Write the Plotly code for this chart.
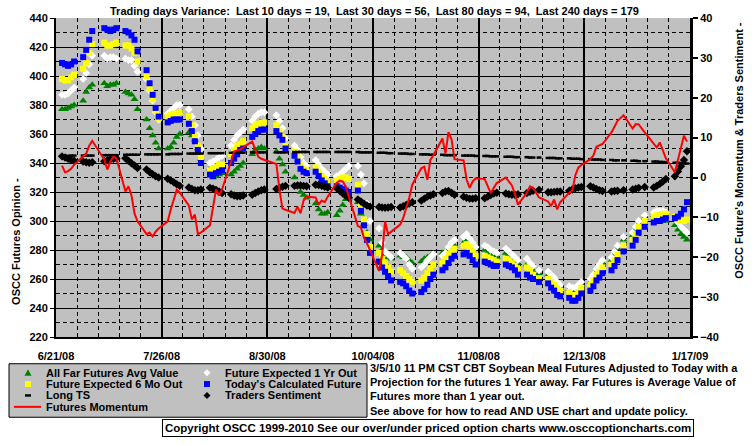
import plotly.graph_objects as go
import pandas as pd

# ---------------- data ----------------
trading_days = pd.bdate_range('2008-06-23', '2009-01-16')
holidays = pd.to_datetime(['2008-07-04', '2008-09-01', '2008-11-27', '2008-12-25', '2009-01-01'])
dates = trading_days[~trading_days.isin(holidays)]

x_tick_dates = ['2008-06-21', '2008-07-26', '2008-08-30', '2008-10-04', '2008-11-08', '2008-12-13', '2009-01-17']
x_tick_labels = ['6/21/08', '7/26/08', '8/30/08', '10/04/08', '11/08/08', '12/13/08', '1/17/09']

far_futures_avg = [
    377, 377, 378, 379, 380,  383, 389, 392, 394,  395, 393, 394, 394, 395,
    389, 388, 387, 384, 377,  370, 364, 359, 354, 350,  350, 351, 354, 358, 360,
    361, 359, 356, 350, 343,  336, 330, 331, 332, 333,  332, 334, 336, 338, 340,
    346, 349, 350, 351, 350,  348, 343, 339, 334,  330, 325, 320, 318, 316,
    312, 308, 305, 305, 306,  304, 307, 311, 315, 316,  313, 305, 298, 292, 287,
    283, 280, 277, 275, 274,  276, 275, 275, 273, 271,  272, 274, 275, 276, 277,
    278, 278, 280, 281, 283,  285, 287, 286, 284, 282,  280, 278, 277, 276, 275,
    278, 277, 275, 273, 271,  270, 268, 266, 264,  263, 261, 259, 256, 254,
    253, 252, 252, 254, 256,  258, 261, 265, 268, 271,  273, 277, 281, 287,
    290, 294, 298, 302,  304, 304, 303, 302, 300,  297, 294, 291, 289, 287]

future_1yr = [
    387, 387, 388, 390, 392,  398, 402, 408, 414,  414, 412, 413, 413, 412,
    412, 411, 411, 407, 403,  398, 390, 383, 375, 370,  374, 376, 378, 380, 380,
    377, 372, 366, 359, 350,  340, 341, 342, 344, 345,  352, 356, 359, 361, 363,
    369, 372, 374, 375, 375,  373, 369, 364, 357,  352, 349, 344, 340, 338,
    342, 339, 336, 334, 332,  331, 332, 334, 336, 338,  338, 332, 326, 312, 300,
    295, 285, 279, 277, 275,  278, 276, 274, 270, 267,  268, 270, 273, 275, 277,
    276, 278, 282, 285, 287,  289, 291, 288, 285, 282,  283, 282, 280, 279, 278,
    281, 279, 277, 275, 273,  274, 271, 269, 266,  265, 263, 261, 258, 256,
    255, 254, 254, 256, 258,  260, 263, 267, 270, 273,  275, 279, 283, 289,
    292, 296, 300, 304,  306, 307, 307, 307, 306,  302, 299, 296, 294, 292]

future_6mo = [
    398, 397, 397, 399, 401,  405, 409, 416, 422,  423, 421, 421, 422, 423,
    421, 421, 419, 416, 410,  400, 391, 384, 376, 371,  372, 373, 374, 374, 375,
    372, 366, 359, 352, 344,  335, 336, 337, 339, 339,  346, 349, 352, 353, 355,
    364, 366, 367, 368, 368,  366, 362, 358, 352,  348, 344, 339, 336, 335,
    337, 334, 331, 329, 327,  328, 329, 330, 330, 329,  325, 311, 301, 291, 282,
    278, 274, 271, 268, 265,  266, 264, 262, 260, 258,  259, 261, 264, 267, 270,
    271, 274, 277, 279, 281,  283, 284, 282, 279, 276,  276, 275, 274, 273, 272,
    274, 273, 271, 269, 267,  268, 266, 263, 260,  260, 258, 256, 253, 252,
    251, 249, 249, 251, 254,  256, 259, 263, 265, 268,  270, 273, 277, 283,
    287, 291, 296, 300,  303, 304, 304, 305, 305,  303, 301, 300, 300, 301]

todays_future = [
    409, 408, 407, 408, 410,  413, 418, 425, 431,  433, 432, 431, 432, 433,
    431, 430, 428, 425, 417,  404, 395, 387, 378, 372,  368, 369, 370, 370, 370,
    367, 362, 355, 349, 340,  332, 331, 333, 334, 335,  340, 343, 346, 349, 350,
    358, 360, 362, 363, 363,  362, 359, 356, 350,  345, 341, 336, 334, 333,
    334, 331, 328, 326, 324,  324, 323, 322, 321, 320,  321, 307, 297, 287, 278,
    272, 268, 265, 262, 259,  258, 257, 255, 252, 250,  251, 253, 256, 260, 263,
    266, 268, 271, 274, 276,  277, 278, 276, 273, 270,  272, 271, 270, 269, 269,
    270, 269, 268, 266, 263,  263, 261, 260, 258,  257, 254, 252, 249, 248,
    247, 245, 245, 247, 250,  252, 255, 259, 261, 264,  266, 269, 273, 279,
    283, 287, 292, 296,  299, 300, 300, 301, 302,  302, 303, 305, 308, 313]

long_ts = [
    5.4, 5.4, 5.4, 5.5, 5.5,  5.5, 5.5, 5.5, 5.5,  5.6, 5.6, 5.6, 5.6, 5.6,
    5.7, 5.7, 5.7, 5.7, 5.7,  5.8, 5.8, 5.8, 5.8, 5.8,  5.8, 5.9, 5.9, 5.9, 5.9,
    6.0, 6.0, 6.0, 6.0, 6.0,  6.1, 6.1, 6.1, 6.1, 6.1,  6.2, 6.2, 6.2, 6.2, 6.2,
    6.3, 6.3, 6.3, 6.3, 6.3,  6.3, 6.3, 6.3, 6.3,  6.4, 6.4, 6.4, 6.4, 6.4,
    6.4, 6.4, 6.4, 6.4, 6.4,  6.4, 6.4, 6.4, 6.4, 6.4,  6.4, 6.3, 6.3, 6.3, 6.3,
    6.2, 6.2, 6.2, 6.1, 6.1,  6.0, 6.0, 6.0, 5.9, 5.9,  5.8, 5.8, 5.8, 5.7, 5.7,
    5.7, 5.6, 5.6, 5.6, 5.6,  5.5, 5.5, 5.5, 5.5, 5.4,  5.4, 5.4, 5.3, 5.3, 5.3,
    5.2, 5.2, 5.2, 5.1, 5.1,  5.1, 5.0, 5.0, 5.0,  4.9, 4.9, 4.9, 4.8, 4.8,
    4.8, 4.7, 4.7, 4.7, 4.6,  4.6, 4.5, 4.5, 4.5, 4.4,  4.4, 4.3, 4.3, 4.3,
    4.2, 4.2, 4.1, 4.1,  4.0, 4.0, 3.9, 3.9, 3.8,  3.7, 3.7, 3.6, 3.5, 3.5]

traders_sentiment = [
    5.3, 5.0, 4.7, 4.4, 4.2,  4.0, 3.8, 3.7, 3.8,  4.1, 4.3, 4.5, 4.7, 4.8,
    4.8, 4.2, 3.6, 3.0, 2.4,  2.0, 1.4, 0.8, 0.3, 0.0,  -0.3, -0.7, -1.2, -1.7, -2.1,
    -2.5, -2.9, -3.2, -3.2, -3.0,  -2.6, -2.8, -3.1, -3.5, -3.9,  -4.2, -4.5, -4.7, -4.7, -4.5,
    -4.3, -3.9, -3.5, -3.2, -3.0,  -2.9, -2.6, -2.3, -2.1,  -2.1, -2.0, -2.0, -2.1, -2.2,
    -1.8, -1.9, -2.1, -2.3, -2.5,  -2.7, -3.3, -4.0, -4.6, -5.1,  -5.5, -6.0, -6.6, -7.0, -7.3,
    -7.4, -7.5, -7.6, -7.5, -7.4,  -7.5, -7.2, -6.9, -6.5, -6.2,  -5.8, -5.3, -4.8, -4.5, -4.2,
    -3.9, -3.5, -3.4, -3.8, -4.3,  -4.8, -5.1, -5.3, -5.3, -5.2,  -5.2, -4.8, -4.4, -4.0, -3.8,
    -4.0, -4.2, -4.3, -4.3, -4.2,  -3.9, -3.6, -3.3, -3.1,  -3.7, -3.7, -3.6, -3.5, -3.5,
    -3.3, -3.0, -2.7, -2.5, -2.4,  -2.2, -2.5, -2.9, -3.2, -3.4,  -3.5, -3.4, -3.3, -3.2,
    -3.0, -2.8, -2.6, -2.4,  -2.5, -2.1, -1.6, -1.0, -0.4,  0.3, 1.5, 2.8, 4.4, 6.6]

futures_momentum = [
    3.0, 1.3, 1.6, 2.2, 3.2,  5.2, 6.0, 8.0, 9.2,  4.5, 2.0, 4.0, 5.2, 4.9,
    -3.5, -2.2, -4.5, -9.0, -11.0,  -14.2, -13.8, -14.8, -13.6, -12.8,  -11.0, -8.0, -5.5, -3.1, -3.8,
    -7.0, -10.5, -9.3, -14.2, -13.8,  -12.0, -7.0, -3.0, -4.5, -3.0,  4.0, 6.5, 6.8, 7.0, 7.6,
    9.0, 7.0, 5.2, 4.7, 4.4,  3.4, -3.0, -7.8, -8.1,  -8.9, -7.3, -9.0, -5.8, -4.8,
    -5.0, -6.8, -5.8, -6.2, -4.8,  -1.3, -0.8, -1.0, -2.3, -4.7,  -12.2, -12.6, -15.1, -16.5, -18.2,
    -23.4, -19.5, -11.0, -14.2, -13.6,  -11.8, -10.2, -7.8, -5.1, -1.8,  2.3, 2.7, -0.6, 4.4, 5.6,
    9.8, 6.0, 11.4, 9.6, 4.6,  4.3, -0.5, -2.6, -1.0, -0.2,  -0.4, -2.0, -3.9, -2.6, -1.4,
    0.0, -1.0, -2.0, -4.0, -6.8,  -3.8, -2.2, -2.6, -5.0,  -6.0, -7.2, -5.5, -8.0, -6.2,
    -3.8, -3.3, 0.5, 2.5, 3.1,  4.6, 5.5, 7.7, 8.0, 8.4,  11.3, 12.6, 14.2, 15.6,
    12.3, 13.4, 13.3, 11.3,  8.5, 7.5, 8.8, 7.0, 4.8,  1.3, 4.5, 7.2, 10.5, 9.0]

title_text = ('Trading days Variance:\u00a0 Last 10 days = 19,\u00a0 Last 30 days = 56,\u00a0 '
              'Last 80 days = 94,\u00a0 Last 240 days = 179')
note_lines = ['3/5/10 11 PM CST CBT Soybean Meal Futures Adjusted to Today with a',
              'Projection for the futures 1 Year away. Far Futures is Average Value of',
              'Futures more than 1 year out.',
              'See above for how to read AND USE chart and update policy.']
copyright_text = 'Copyright OSCC 1999-2010 See our over/under priced option charts www.osccoptioncharts.com'

# ---------------- layout geometry ----------------
W_FIG, H_FIG = 755, 446
L, R, T, B = 56, 65, 15, 109
PW, PH = W_FIG - L - R, H_FIG - T - B
FONT = 'Liberation Sans, Arial, sans-serif'


def px(p):
    return (p - L) / PW


def py(p):
    return (T + PH - p) / PH


fig = go.Figure()

fig.add_trace(go.Scatter(x=dates, y=far_futures_avg, mode='markers', name='All Far Futures Avg Value',
                         marker=dict(symbol='triangle-up', size=7, color='#008000')))
fig.add_trace(go.Scatter(x=dates, y=future_1yr, mode='markers', name='Future Expected 1 Yr Out',
                         marker=dict(symbol='diamond', size=6, color='#FFFFFF')))
fig.add_trace(go.Scatter(x=dates, y=future_6mo, mode='markers', name='Future Expected 6 Mo Out',
                         marker=dict(symbol='square', size=6, color='#FFFF00')))
fig.add_trace(go.Scatter(x=dates, y=todays_future, mode='markers', name="Today's Calculated Future",
                         marker=dict(symbol='square', size=6, color='#0000FF')))
fig.add_trace(go.Scatter(x=dates, y=long_ts, mode='markers', name='Long TS', yaxis='y2',
                         marker=dict(symbol='line-ew', size=3.5, color='black',
                                     line=dict(color='black', width=2.5))))
fig.add_trace(go.Scatter(x=dates, y=traders_sentiment, mode='markers', name='Traders Sentiment', yaxis='y2',
                         marker=dict(symbol='diamond', size=6.5, color='black')))
fig.add_trace(go.Scatter(x=dates, y=futures_momentum, mode='lines', name='Futures Momentum', yaxis='y2',
                         line=dict(color='#FF0000', width=2)))

tickfont = dict(family=FONT, size=11, color='black', weight='bold')

fig.update_layout(
    width=W_FIG, height=H_FIG,
    margin=dict(l=L, r=R, t=T, b=B, pad=0),
    paper_bgcolor='white', plot_bgcolor='#C0C0C0',
    showlegend=False,
    font=dict(family=FONT, size=11, color='black'),
    xaxis=dict(type='date', range=['2008-06-21', '2009-01-17'],
               tickmode='array', tickvals=x_tick_dates, ticktext=x_tick_labels,
               tickfont=tickfont, ticks='', ticklabelstandoff=8,
               showgrid=True, gridcolor='black', gridwidth=2,
               minor=dict(tickmode='linear', tick0='2008-06-21', dtick=7 * 86400000,
                          showgrid=True, gridcolor='black', gridwidth=1, griddash='4px,3px'),
               showline=True, linecolor='black', linewidth=2, zeroline=False),
    yaxis=dict(range=[220, 440], tickmode='linear', tick0=220, dtick=20,
               tickfont=tickfont, ticks='outside', ticklen=4, tickcolor='black',
               showgrid=True, gridcolor='black', gridwidth=1,
               minor=dict(tickmode='linear', tick0=230, dtick=20,
                          showgrid=True, gridcolor='black', gridwidth=1, griddash='4px,3px'),
               showline=True, linecolor='black', linewidth=2, zeroline=False),
    yaxis2=dict(range=[-40, 40], overlaying='y', side='right', tickmode='linear', tick0=-40, dtick=10,
                tickfont=tickfont, ticks='outside', ticklen=5, tickcolor='black', tickwidth=1.5,
                showgrid=False, showline=True, linecolor='black', linewidth=3, zeroline=False),
    # inner half of the crossing tick marks on the right axis
    yaxis3=dict(range=[-40, 40], overlaying='y', side='right', anchor='x', tickmode='linear', tick0=-40,
                dtick=10, ticks='inside', ticklen=4, tickcolor='black', tickwidth=1.5,
                showticklabels=False, showgrid=False, showline=False, zeroline=False),
)

ann = []
ann.append(dict(text='<b>' + title_text + '</b>', x=px(374), y=py(7.5), xref='paper', yref='paper',
                showarrow=False, xanchor='center', yanchor='middle', font=dict(size=11)))
ann.append(dict(text='<b>OSCC Futures Opinion -</b>', x=px(16), y=py(241), xref='paper', yref='paper',
                showarrow=False, textangle=-90, xanchor='center', yanchor='middle', font=dict(size=11)))
ann.append(dict(text="<b>OSCC Future's Momentum &amp; Traders Sentiment -</b>", x=px(739), y=py(149),
                xref='paper', yref='paper', showarrow=False, textangle=-90,
                xanchor='center', yanchor='middle', font=dict(size=11)))

# notes on the right of the legend
for i, line in enumerate(note_lines):
    ann.append(dict(text='<b>' + line + '</b>', x=px(368), y=py(368 + i * 14.5), xref='paper', yref='paper',
                    showarrow=False, xanchor='left', yanchor='middle', font=dict(size=11)))

ann.append(dict(text='<b>' + copyright_text + '</b>', x=px(428), y=py(429), xref='paper', yref='paper',
                showarrow=False, xanchor='center', yanchor='middle', font=dict(size=11.5),
                bordercolor='black', borderwidth=1, borderpad=2, bgcolor='white'))

# legend (drawn manually)
legend_rows = [(44, 373, 'All Far Futures Avg Value'), (223, 373, 'Future Expected 1 Yr Out'),
               (44, 384.5, 'Future Expected 6 Mo Out'), (223, 384.5, "Today's Calculated Future"),
               (44, 396, 'Long TS'), (223, 396, 'Traders Sentiment'),
               (44, 407.5, 'Futures Momentum')]
for lx, ly, t in legend_rows:
    ann.append(dict(text='<b>' + t + '</b>', x=px(lx), y=py(ly), xref='paper', yref='paper',
                    showarrow=False, xanchor='left', yanchor='middle', font=dict(size=11)))

shapes = []
shapes.append(dict(type='rect', xref='paper', yref='paper', x0=px(9), x1=px(367), y0=py(364), y1=py(418),
                   fillcolor='#C0C0C0', line=dict(color='black', width=1), layer='below'))


def path(points):
    return 'M ' + ' L '.join(f'{px(a)},{py(b)}' for a, b in points) + ' Z'


# triangle
shapes.append(dict(type='path', xref='paper', yref='paper', path=path([(28, 369.5), (24.5, 376), (31.5, 376)]),
                   fillcolor='#008000', line=dict(width=0)))
# white diamond
shapes.append(dict(type='path', xref='paper', yref='paper',
                   path=path([(207, 369.5), (210.5, 373), (207, 376.5), (203.5, 373)]),
                   fillcolor='#FFFFFF', line=dict(width=0)))
# yellow square
shapes.append(dict(type='rect', xref='paper', yref='paper', x0=px(25), x1=px(31), y0=py(381.5), y1=py(387.5),
                   fillcolor='#FFFF00', line=dict(width=0)))
# blue square
shapes.append(dict(type='rect', xref='paper', yref='paper', x0=px(204), x1=px(210), y0=py(381.5), y1=py(387.5),
                   fillcolor='#0000FF', line=dict(width=0)))
# long TS dash
shapes.append(dict(type='line', xref='paper', yref='paper', x0=px(25), x1=px(31), y0=py(396), y1=py(396),
                   line=dict(color='black', width=2.5)))
# black diamond
shapes.append(dict(type='path', xref='paper', yref='paper',
                   path=path([(207, 392.5), (210.5, 396), (207, 399.5), (203.5, 396)]),
                   fillcolor='black', line=dict(width=0)))
# red line
shapes.append(dict(type='line', xref='paper', yref='paper', x0=px(14), x1=px(41), y0=py(407.5), y1=py(407.5),
                   line=dict(color='#FF0000', width=2)))

fig.update_layout(annotations=ann, shapes=shapes)
fig.write_html('out.html',
               config={'displayModeBar': False},
               post_script="document.body.style.margin='0';document.body.style.padding='0';"
                           "document.documentElement.style.overflow='hidden';")
